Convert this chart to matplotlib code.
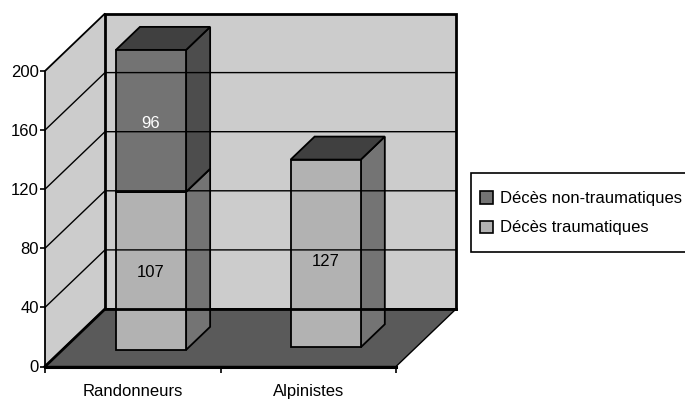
import matplotlib

matplotlib.use("Agg")
import matplotlib.pyplot as plt
from matplotlib.patches import Patch, Polygon, Rectangle

categories = ["Randonneurs", "Alpinistes"]
traumatiques = [107, 127]
non_traumatiques = [96, 0]
y_ticks = [0, 40, 80, 120, 160, 200]

# colours: (front, side, top)
light_bar = ("#b2b2b2", "#747474", "#404040")
dark_bar = ("#737373", "#4d4d4d", "#404040")
wall_col = "#cccccc"
floor_col = "#5a5a5a"

W, H = 685, 399
left, right, top, bottom = 45, 396, 71, 366.5
fsize = 12

plt.rcParams["font.family"] = ["Liberation Sans", "DejaVu Sans"]
plt.rcParams["font.size"] = fsize

fig = plt.figure(figsize=(W / 100, H / 100), dpi=100)
ax = fig.add_axes(
    [left / W, 1 - bottom / H, (right - left) / W, (bottom - top) / H]
)
ax.set_xlim(0, len(categories))
ax.set_ylim(0, 200)

# depth of the box, in data units per unit of depth
dx_depth = 60 / ((right - left) / len(categories))
dy_depth = 57.5 / ((bottom - top) / 200)


def proj(x, y, d):
    return (x + d * dx_depth, y + d * dy_depth)


def add_poly(points, fc, lw=1.3, **kw):
    p = Polygon(
        [proj(*pt) for pt in points], closed=True, fc=fc, ec="black", lw=lw,
        clip_on=False, joinstyle="miter", **kw
    )
    ax.add_patch(p)


def add_bar(center, y0, y1, depth, colors):
    x0, x1 = center - 0.2, center + 0.2
    d0, d1 = depth, depth + 0.4
    add_poly([(x1, y0, d0), (x1, y0, d1), (x1, y1, d1), (x1, y1, d0)], colors[1])
    add_poly([(x0, y1, d0), (x1, y1, d0), (x1, y1, d1), (x0, y1, d1)], colors[2])
    add_poly([(x0, y0, d0), (x1, y0, d0), (x1, y1, d0), (x0, y1, d0)], colors[0])


xmax = len(categories)

# walls and floor
add_poly([(0, 0, 1), (xmax, 0, 1), (xmax, 200, 1), (0, 200, 1)], wall_col, lw=2)
add_poly([(0, 0, 0), (0, 0, 1), (0, 200, 1), (0, 200, 0)], wall_col, lw=1.3)

for v in y_ticks[1:-1]:
    ax.plot(*zip(proj(0, v, 0), proj(0, v, 1), proj(xmax, v, 1)),
            color="black", lw=1.0, clip_on=False)

add_poly([(0, 0, 0), (xmax, 0, 0), (xmax, 0, 1), (0, 0, 1)], floor_col, lw=1)
ax.plot(*zip(proj(0, 0, 1), proj(xmax, 0, 1)), color="black", lw=2, clip_on=False)
ax.plot(*zip(proj(0, 0, 0), proj(xmax, 0, 0)), color="black", lw=2.2, clip_on=False)
ax.plot(*zip(proj(0, 0, 0), proj(0, 0, 1)), color="black", lw=2, clip_on=False)

# stacked bars, second one sits a little further back on the floor
centers = [0.505, 1.485]
depths = [0.29, 0.335]
label_shift = [-2, -8]
for i, name in enumerate(categories):
    c = centers[i]
    t = traumatiques[i]
    n = non_traumatiques[i]
    add_bar(c, 0, t, depths[i], light_bar)
    lx, ly = proj(c, t / 2, depths[i])
    ax.annotate(str(t), (lx, ly), xytext=(0, label_shift[i]),
                textcoords="offset pixels", ha="center", va="center",
                color="black", fontsize=fsize)
    if n > 0:
        add_bar(c, t, t + n, depths[i], dark_bar)
        lx, ly = proj(c, t + n / 2, depths[i])
        ax.annotate(str(n), (lx, ly), xytext=(0, -3), textcoords="offset pixels",
                    ha="center", va="center", color="white", fontsize=fsize)

for s in ax.spines.values():
    s.set_visible(False)
ax.patch.set_visible(False)

ax.set_yticks(y_ticks)
ax.set_xticks(range(xmax + 1))
ax.set_xticklabels([])
ax.set_xticks([i + 0.5 for i in range(xmax)], labels=categories, minor=True)
ax.tick_params(axis="x", which="minor", length=0, pad=12.5, labelsize=fsize)
ax.tick_params(axis="x", which="major", length=4, width=1.2)
ax.tick_params(axis="y", length=3.5, width=1.2, pad=1, labelsize=fsize)

# legend frame runs off the right edge of the figure
fig.add_artist(Rectangle((471 / W, 1 - 252 / H), 230 / W, 79 / H,
                         transform=fig.transFigure, fc="white", ec="black", lw=1.2))
handles = [
    Patch(fc=dark_bar[0], ec="black", lw=1.2),
    Patch(fc=light_bar[0], ec="black", lw=1.2),
]
leg = fig.legend(
    handles,
    ["Décès non-traumatiques", "Décès traumatiques"],
    loc="upper left",
    bbox_to_anchor=(472 / W, 1 - 183 / H),
    borderaxespad=0,
    frameon=False,
    fontsize=fsize,
    handlelength=0.75,
    handleheight=0.75,
    handletextpad=0.4,
    labelspacing=0.85,
    borderpad=0.5,
)

fig.savefig("out.png", dpi=100)
